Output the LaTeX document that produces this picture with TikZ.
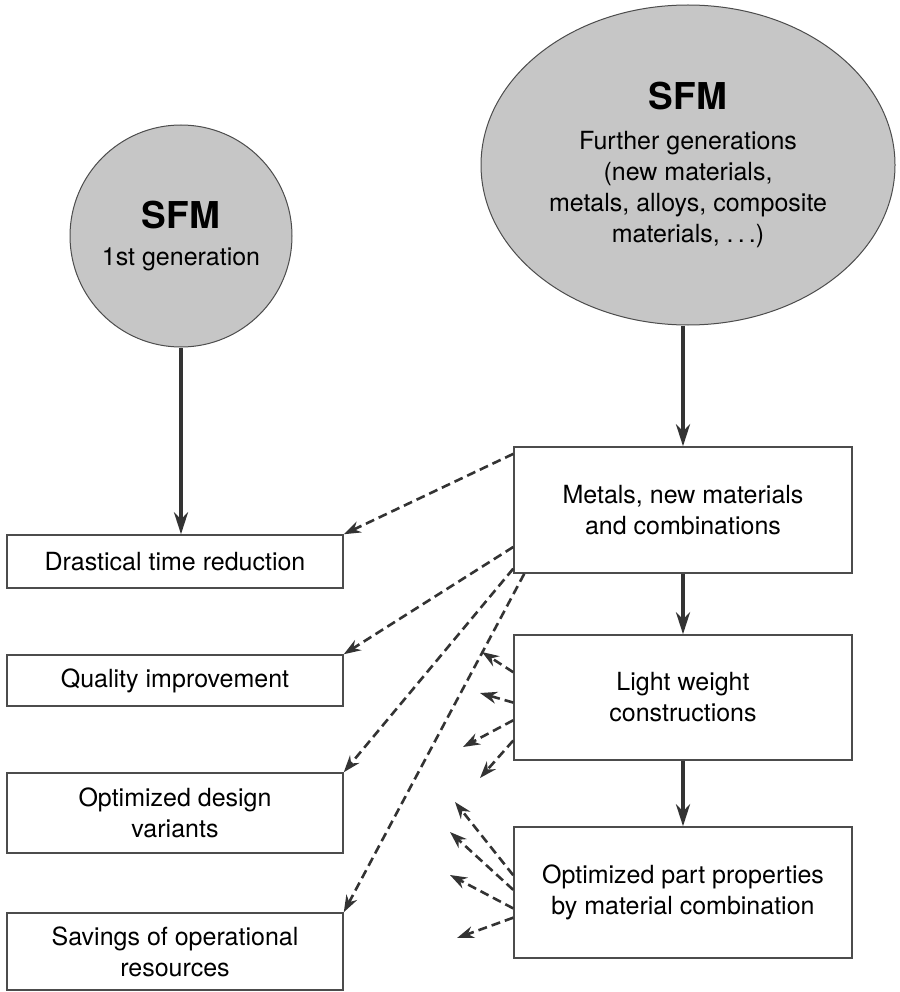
\documentclass[tikz,border=0pt]{standalone}
\usepackage{fontspec}
\setmainfont{TeX Gyre Heros}
\usetikzlibrary{arrows.meta, shapes.geometric, positioning, calc}

\begin{document}
\begin{tikzpicture}[x=1pt, y=-1pt,
  font=\fontsize{25}{31}\selectfont,
  sfm/.style={draw=black!70, line width=1pt, fill=gray!45, align=center, inner sep=0pt},
  outcome/.style={draw=black!70, line width=1.5pt, minimum width=336pt,
                  minimum height=#1, align=center, inner sep=0pt},
  stage/.style={draw=black!70, line width=1.5pt, minimum width=338pt,
                minimum height=#1, align=center, inner sep=0pt},
  flow/.style={-{Stealth[length=22pt, width=14pt]}, line width=4pt, black!80},
  effect/.style={-{Stealth[length=17pt, width=12pt]}, line width=2.6pt, black!80,
                 dash pattern=on 9pt off 5pt}]

  \useasboundingbox (0,0) rectangle (899,992);

  \node[sfm, circle, minimum size=222pt] (sfm1) at (181,236)
        {{\fontsize{37}{40}\selectfont\bfseries SFM}\\[6pt] 1st generation};
  \node[sfm, ellipse, minimum width=414pt, minimum height=320pt] (sfm2) at (688,165)
        {{\fontsize{37}{40}\selectfont\bfseries SFM}\\[9pt] Further generations\\
         (new materials,\\ metals, alloys, composite\\ materials, .\,.\,.)};

  \node[outcome=53pt] (drastical) at (175,561.5) {Drastical time reduction};
  \node[outcome=51pt] (quality)   at (175,680.5) {Quality improvement};
  \node[outcome=80pt] (design)    at (175,813)   {Optimized design\\variants};
  \node[outcome=77pt] (savings)   at (175,951.5) {Savings of operational\\resources};

  \node[stage=126pt] (metals) at (683,510)   {Metals, new materials\\and combinations};
  \node[stage=125pt] (light)  at (683,697.5) {Light weight\\constructions};
  \node[stage=131pt] (parts)  at (683,892.5) {Optimized part properties\\by material combination};

  \draw[flow] (sfm1) -- (sfm1 |- drastical.north);
  \draw[flow] (sfm2.south -| metals) -- (metals);
  \draw[flow] (metals) -- (light);
  \draw[flow] (light) -- (parts);

  \draw[effect] ($(metals.north west)!0.06!(metals.south west)$) -- (drastical.north east);
  \draw[effect] ($(metals.north west)!0.79!(metals.south west)$) -- (quality.north east);
  \draw[effect] ($(metals.north west)!0.96!(metals.south west)$) -- (design.north east);
  \draw[effect] ([xshift=11pt]metals.south west) -- (savings.north east);

  \foreach \f/\x/\y [count=\i] in {0.30/482/652, 0.54/480/693, 0.68/463/747, 0.84/480/778} {
    \coordinate (light-\i) at (\x,\y);
    \draw[effect] ($(light.north west)!\f!(light.south west)$) -- (light-\i);
  }
  \foreach \f/\x/\y [count=\i] in {0.37/455/802, 0.48/450/832, 0.62/450/875, 0.69/457/938} {
    \coordinate (parts-\i) at (\x,\y);
    \draw[effect] ($(parts.north west)!\f!(parts.south west)$) -- (parts-\i);
  }
\end{tikzpicture}
\end{document}
